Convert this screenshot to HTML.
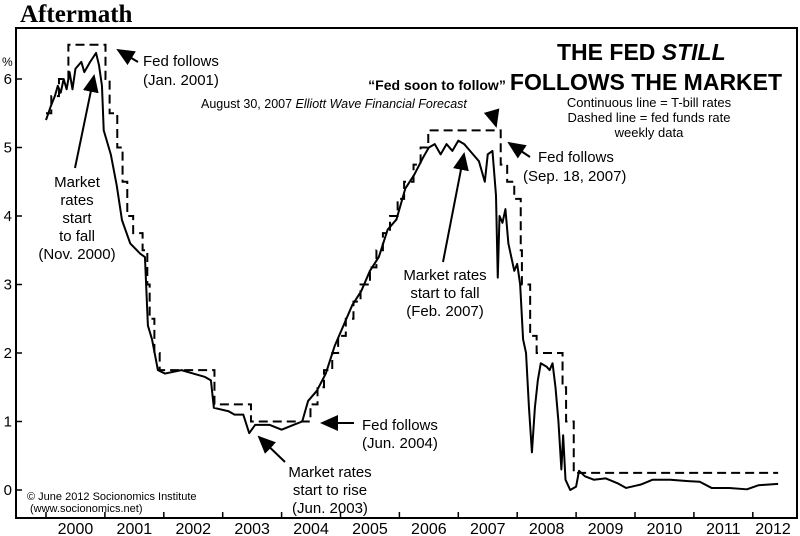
<!DOCTYPE html>
<html><head><meta charset="utf-8"><style>
body{margin:0;background:#fff;}
svg{display:block;font-family:"Liberation Sans",Arial,sans-serif;}
</style></head><body>
<svg id="c" width="800" height="536" viewBox="0 0 800 536">
<defs><marker id="ah" markerWidth="10" markerHeight="10" refX="8" refY="4" orient="auto"><path d="M0,0 L9,4 L0,8 z" fill="#000"/></marker></defs>
<text x="20" y="22" font-family="Liberation Serif,serif" font-weight="bold" font-size="25">Aftermath</text>
<rect x="16" y="28" width="781" height="490" fill="none" stroke="#000" stroke-width="2"/>
<g id="axes"></g>
<g id="series"></g>
<g font-size="15">
<text x="557" y="60" font-size="23" font-weight="bold">THE FED <tspan font-style="italic">STILL</tspan></text>
<text x="646" y="90" font-size="23" font-weight="bold" text-anchor="middle">FOLLOWS THE MARKET</text>
<g font-size="13" text-anchor="middle">
<text x="649" y="107">Continuous line = T-bill rates</text>
<text x="649" y="122">Dashed line = fed funds rate</text>
<text x="649" y="137">weekly data</text>
</g>
<text x="437" y="90" font-size="14" font-weight="bold" text-anchor="middle">“Fed soon to follow”</text>
<text x="201" y="108" font-size="12.5">August 30, 2007 <tspan font-style="italic">Elliott Wave Financial Forecast</tspan></text>
<text x="143" y="66">Fed follows</text>
<text x="143" y="85">(Jan. 2001)</text>
<g text-anchor="middle">
<text x="77" y="187">Market</text><text x="77" y="205">rates</text><text x="77" y="223">start</text><text x="77" y="241">to fall</text><text x="77" y="259">(Nov. 2000)</text></g>
<g text-anchor="middle">
<text x="445" y="280">Market rates</text><text x="445" y="298">start to fall</text><text x="445" y="316">(Feb. 2007)</text></g>
<text x="538" y="162">Fed follows</text>
<text x="523" y="181">(Sep. 18, 2007)</text>
<text x="362" y="430">Fed follows</text>
<text x="362" y="448">(Jun. 2004)</text>
<g text-anchor="middle">
<text x="330" y="477">Market rates</text><text x="330" y="495">start to rise</text><text x="330" y="513">(Jun. 2003)</text></g>
<text x="27" y="500" font-size="11">© June 2012 Socionomics Institute</text>
<text x="30" y="512" font-size="11">(www.socionomics.net)</text>
<g stroke="#000" stroke-width="2" marker-end="url(#ah)">
<line x1="138" y1="62" x2="118" y2="50"/><line x1="75" y1="168" x2="94" y2="76"/>
<line x1="443" y1="262" x2="464" y2="154"/><line x1="530" y1="157" x2="509" y2="143"/>
<line x1="492" y1="112" x2="496" y2="126"/><line x1="354" y1="423" x2="322" y2="423"/>
<line x1="285" y1="462" x2="259" y2="437"/></g>
</g>
</svg>
<script>
const yTicks=[0,1,2,3,4,5,6];
const years=[2000,2001,2002,2003,2004,2005,2006,2007,2008,2009,2010,2011,2012];
const fedT=[2000.0,2000.09,2000.22,2000.38,2001.01,2001.08,2001.21,2001.3,2001.38,2001.48,2001.64,2001.72,2001.76,2001.84,2001.93,2002.86,2003.48,2004.49,2004.61,2004.72,2004.86,2004.96,2005.09,2005.22,2005.34,2005.5,2005.61,2005.72,2005.84,2005.97,2006.08,2006.24,2006.36,2006.49,2007.72,2007.83,2007.95,2008.06,2008.08,2008.22,2008.33,2008.77,2008.83,2008.96];
const fedV=[5.5,5.75,6.0,6.5,6.0,5.5,5.0,4.5,4.0,3.75,3.5,3.0,2.5,2.0,1.75,1.25,1.0,1.25,1.5,1.75,2.0,2.25,2.5,2.75,3.0,3.25,3.5,3.75,4.0,4.25,4.5,4.75,5.0,5.25,4.75,4.5,4.25,3.5,3.0,2.25,2.0,1.5,1.0,0.25];
const fedEnd=2012.43;
const tbT=[2000.0,2000.08,2000.15,2000.2,2000.25,2000.3,2000.35,2000.4,2000.45,2000.5,2000.6,2000.65,2000.75,2000.85,2000.9,2000.95,2000.98,2001.1,2001.2,2001.29,2001.43,2001.6,2001.68,2001.73,2001.8,2001.9,2002.02,2002.3,2002.5,2002.7,2002.8,2002.85,2003.1,2003.2,2003.35,2003.45,2003.55,2003.8,2004.0,2004.2,2004.35,2004.45,2004.6,2004.75,2004.9,2005.05,2005.2,2005.35,2005.5,2005.65,2005.8,2005.95,2006.1,2006.25,2006.4,2006.5,2006.6,2006.7,2006.8,2006.9,2007.0,2007.1,2007.25,2007.35,2007.45,2007.5,2007.58,2007.64,2007.67,2007.7,2007.75,2007.8,2007.85,2007.95,2008.0,2008.05,2008.1,2008.15,2008.2,2008.25,2008.3,2008.35,2008.4,2008.5,2008.55,2008.6,2008.65,2008.7,2008.75,2008.78,2008.82,2008.9,2009.0,2009.05,2009.15,2009.3,2009.5,2009.7,2009.85,2010.1,2010.3,2010.6,2010.9,2011.1,2011.3,2011.6,2011.9,2012.1,2012.43];
const tbV=[5.4,5.6,5.75,5.9,5.8,6.0,5.85,6.1,5.85,6.15,6.25,6.1,6.25,6.38,6.2,5.9,5.25,4.9,4.45,3.94,3.6,3.45,3.4,2.4,2.2,1.75,1.7,1.75,1.7,1.65,1.6,1.2,1.15,1.1,1.1,0.83,0.95,0.95,0.88,0.95,1.0,1.3,1.45,1.7,2.1,2.4,2.7,2.9,3.2,3.4,3.8,3.95,4.4,4.6,4.85,5.0,5.05,4.9,5.05,4.95,5.1,5.05,4.9,4.8,4.5,4.9,4.95,4.3,3.1,4.0,3.9,4.1,3.6,3.2,3.3,3.0,2.2,2.0,1.2,0.55,1.2,1.6,1.85,1.8,1.75,1.85,1.5,1.0,0.3,0.8,0.15,0.0,0.05,0.28,0.2,0.15,0.17,0.1,0.03,0.08,0.15,0.15,0.13,0.12,0.03,0.03,0.01,0.07,0.09];
const X=t=>46+(t-2000)*58.9, Y=v=>490-68.5*v;
const NS='http://www.w3.org/2000/svg';
function mk(tag,attrs,parent){const e=document.createElementNS(NS,tag);for(const k in attrs)e.setAttribute(k,attrs[k]);parent.appendChild(e);return e;}
const ax=document.getElementById('axes'), se=document.getElementById('series');
yTicks.forEach(v=>{
 const l=mk('line',{x1:16,x2:22,y1:Y(v),y2:Y(v),stroke:'#000','stroke-width':1.5},ax);
 
 
 const t=mk('text',{x:12,y:Y(v)+5,'font-size':15,'text-anchor':'end'},ax);t.textContent=v;
 
 
});
const pc=mk('text',{x:2,y:66,'font-size':12},ax);pc.textContent='%';


years.forEach(y=>{
 const l=mk('line',{x1:X(y),x2:X(y),y1:512,y2:518,stroke:'#000','stroke-width':1.5},ax);
 
 
 const t=mk('text',{x:Math.min(X(y+0.5),773),y:534,'font-size':16,'text-anchor':'middle'},ax);t.textContent=y;
 
 
});
let d='';
fedT.forEach((t,i)=>{const x=X(t),y=Y(fedV[i]);d+=(i?`L${x},${Y(fedV[i-1])}L${x},${y}`:`M${x},${y}`);});
d+=`L${X(fedEnd)},${Y(fedV[fedV.length-1])}`;
const fp=mk('path',{d:d,fill:'none',stroke:'#000','stroke-width':2,'stroke-dasharray':'9,5'},se);


const tp=mk('path',{d:tbT.map((t,i)=>(i?'L':'M')+X(t)+','+Y(tbV[i])).join(''),fill:'none',stroke:'#000','stroke-width':2,'stroke-linejoin':'round'},se);


</script>
</body></html>
